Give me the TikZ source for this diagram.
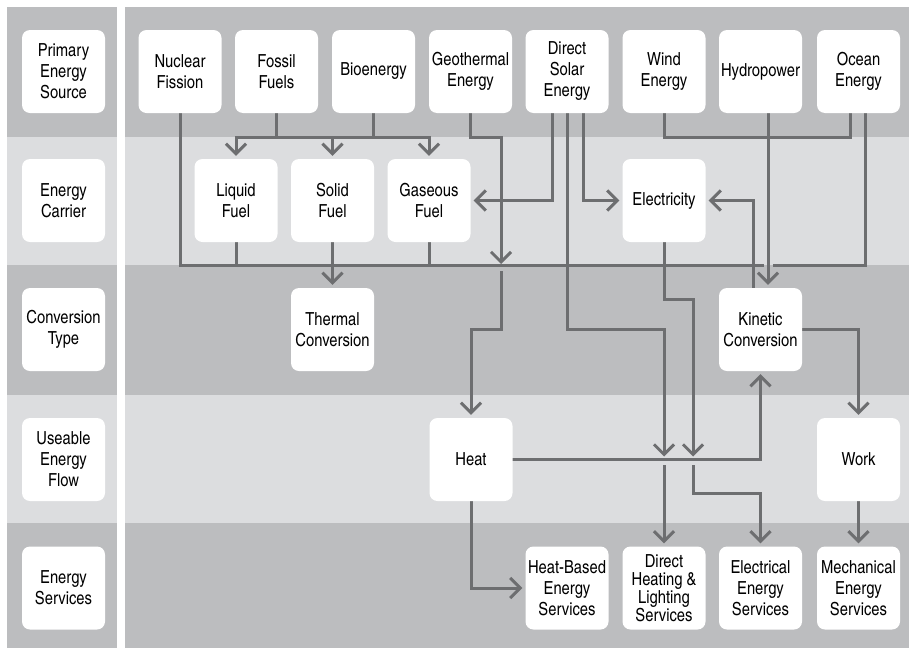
\documentclass[tikz,border=0pt]{standalone}
\usepackage{fontspec}
\setmainfont{texgyreheroscn-regular.otf}
\usetikzlibrary{arrows.meta}
\pgfdeclarelayer{bg}
\pgfdeclarelayer{lines}
\pgfsetlayers{bg,lines,main}
\definecolor{bandD}{HTML}{BCBDBF}
\definecolor{bandL}{HTML}{DCDDDF}
\definecolor{lineC}{HTML}{6D6E70}
\tikzset{
  box/.style={draw=none, fill=white, rounded corners=8pt, minimum width=83pt, minimum height=83pt, inner sep=0pt, align=center, font=\fontsize{18}{21}\selectfont, text=black},
  ln/.style={draw=lineC, line width=3pt, line cap=rect},
  arr/.style={ln, -{Straight Barb[length=10pt,width=20pt]}, shorten >=3pt},
}
\begin{document}
\begin{tikzpicture}[x=1pt,y=-1pt]
\useasboundingbox (0,0) rectangle (909,648);
\begin{pgfonlayer}{bg}
\fill[white] (0,0) rectangle (909,648);
\foreach \ya/\yb/\c in {7/137/bandD,137/265/bandL,265/395/bandD,395/523/bandL,523/648/bandD}{
  \fill[\c] (7,\ya) rectangle (117,\yb);
  \fill[\c] (125,\ya) rectangle (909,\yb);
}
\end{pgfonlayer}
% row labels
\node[box] (l1) at (63.5,71.5) {Primary\\Energy\\Source};
\node[box] (l2) at (63.5,200.5) {Energy\\Carrier};
\node[box] (l3) at (63.5,329.5) {Conversion\\Type};
\node[box] (l4) at (63.5,459.5) {Useable\\Energy\\Flow};
\node[box] (l5) at (63.5,588) {Energy\\Services};
% primary sources
\node[box] (nf) at (180,71.5) {Nuclear\\Fission};
\node[box] (ff) at (276.5,71.5) {Fossil\\Fuels};
\node[box] (bio) at (373.5,71.5) {Bioenergy};
\node[box] (geo) at (470.5,71.5) {Geothermal\\Energy};
\node[box] (sol) at (567,71.5) {Direct\\Solar\\Energy};
\node[box] (wind) at (664,71.5) {Wind\\Energy};
\node[box] (hydro) at (760.5,71.5) {Hydropower};
\node[box] (ocean) at (858.5,71.5) {Ocean\\Energy};
% carriers
\node[box] (liq) at (236,200.5) {Liquid\\Fuel};
\node[box] (sld) at (332.5,200.5) {Solid\\Fuel};
\node[box] (gas) at (429,200.5) {Gaseous\\Fuel};
\node[box] (elec) at (664,200.5) {Electricity};
% conversion
\node[box] (therm) at (332.5,329.5) {Thermal\\Conversion};
\node[box] (kin) at (760.5,329.5) {Kinetic\\Conversion};
% useable flow
\node[box] (heat) at (471,459.5) {Heat};
\node[box] (work) at (858.5,459.5) {Work};
% services
\node[box] (hbes) at (567,588) {Heat-Based\\Energy\\Services};
\node[box, font=\fontsize{18}{18}\selectfont] (dhls) at (664,588) {Direct\\Heating \&\\Lighting\\Services};
\node[box] (ees) at (760.5,588) {Electrical\\Energy\\Services};
\node[box] (mes) at (858.5,588) {Mechanical\\Energy\\Services};
% helper coordinates
\coordinate (yA) at (0,137);
\coordinate (yB) at (0,265);
\coordinate (yS) at (0,329);
\coordinate (yE) at (0,299);
\coordinate (yH) at (0,459.5);
\coordinate (yF) at (0,493);
\coordinate (busR1) at (762,265);
\coordinate (busR2) at (774,265);
\coordinate (oc1) at ([xshift=-8.5pt]ocean.south);
\coordinate (oc2) at ([xshift=6.5pt]ocean.south);
\coordinate (hy1) at ([xshift=7.5pt]hydro.south);
\coordinate (hy2) at ([xshift=7.5pt]kin.north);
\coordinate (kn1) at ([xshift=-7.5pt]kin.north);
\coordinate (g1) at (501,137);
\coordinate (g2) at (501,265);
\coordinate (g3) at (501,272);
\coordinate (sl) at ([xshift=-15pt]sol.south);
\coordinate (sr) at ([xshift=16pt]sol.south);
\coordinate (dj) at (664,459.5);
\coordinate (dj2) at (664,466);
\coordinate (e1) at (693,299);
\coordinate (e2) at (693,466);
\begin{pgfonlayer}{lines}
% bus to thermal
\draw[ln] (nf.south) |- (busR1);
\draw[ln] (oc2) |- (busR2);
\draw[ln] (oc1) -- (oc1 |- yA) -| (wind.south);
% fossil & bio to fuels
\draw[ln] (ff.south) -- (ff.south |- yA);
\draw[ln] (bio.south) -- (bio.south |- yA);
\draw[ln] (liq.north |- yA) -- (gas.north |- yA);
\draw[arr] (liq.north |- yA) -- (liq.north);
\draw[arr] (sld.north |- yA) -- (sld.north);
\draw[arr] (gas.north |- yA) -- (gas.north);
\draw[ln] (liq.south) -- (liq.south |- yB);
\draw[ln] (gas.south) -- (gas.south |- yB);
\draw[arr] (sld.south) -- (therm.north);
% geothermal
\draw[arr, shorten >=1pt] (geo.south) |- (g1) -- (g2);
\draw[arr] (g3) -- (g3 |- yS) -| (heat.north);
% solar
\draw[arr] (sl) |- (gas.east);
\draw[arr] (sr) |- (elec.west);
\draw[arr] (sol.south) |- (dj |- yS) -- (dj);
\draw[arr] (dj2) -- (dhls.north);
% electricity
\draw[arr] (elec.south) |- (e1) -- (e1 |- yH);
\draw[arr] (e2) -- (e2 |- yF) -| (ees.north);
% hydro, kinetic
\draw[arr] (hy1) -- (hy2);
\draw[arr] (kn1) |- (elec.east);
\draw[arr] (kin.east) -| (work.north);
\draw[arr] (work.south) -- (mes.north);
% heat
\draw[arr] (heat.east) -| (kin.south);
\draw[arr] (heat.south) |- (hbes.west);
\end{pgfonlayer}
\end{tikzpicture}
\end{document}
